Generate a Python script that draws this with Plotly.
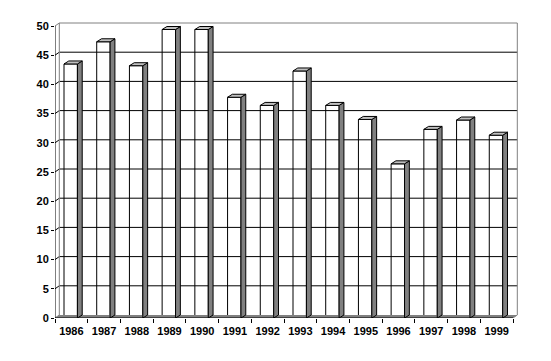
import plotly.graph_objects as go

years = ["1986", "1987", "1988", "1989", "1990", "1991", "1992", "1993",
         "1994", "1995", "1996", "1997", "1998", "1999"]
values = [43.5, 47.3, 43.2, 49.4, 49.4, 37.8, 36.4, 42.3, 36.4, 34.0, 26.4, 32.3, 33.9, 31.3]
yticks = [0, 5, 10, 15, 20, 25, 30, 35, 40, 45, 50]

W, H = 551, 361
L, R, T, B = 55, 33, 22, 43
XS = 458 / 14.0   # px per category slot
YS = 292 / 50.0   # px per value unit
xmax = (W - L - R) / XS
ymax = (H - T - B) / YS

DX = 4.3 / XS     # depth offset (x) in data units
DY = 3.0 / YS     # depth offset (y) in data units
BAR_L = 0.275
BAR_W = 0.41
SIDE = 4.8 / XS
TOP = 3.0 / YS

n = len(years)
fig = go.Figure()

GRAY = "#808080"
LGRAY = "#c0c0c0"

# floor
fig.add_trace(go.Scatter(x=[0, n, n + DX, DX, 0], y=[0, 0, DY, DY, 0], mode="lines",
                         fill="toself", fillcolor=GRAY, line=dict(width=0),
                         hoverinfo="skip", showlegend=False))

# gridlines on back wall with connectors
gx, gy = [], []
for v in yticks[1:-1]:
    gx += [0, DX, n + DX, None]
    gy += [v, v + DY, v + DY, None]
fig.add_trace(go.Scatter(x=gx, y=gy, mode="lines", line=dict(color="black", width=1),
                         hoverinfo="skip", showlegend=False))

# wall borders (grey)
fig.add_trace(go.Scatter(x=[DX, DX, n + DX, n + DX, n], y=[DY, 50 + DY, 50 + DY, DY, 0],
                         mode="lines", line=dict(color=GRAY, width=1),
                         hoverinfo="skip", showlegend=False))
fig.add_trace(go.Scatter(x=[0, DX], y=[50, 50 + DY], mode="lines",
                         line=dict(color=GRAY, width=1), hoverinfo="skip", showlegend=False))
fig.add_trace(go.Scatter(x=[0, DX], y=[0, DY], mode="lines",
                         line=dict(color=GRAY, width=1), hoverinfo="skip", showlegend=False))

# front faces
fig.add_trace(go.Bar(x=[i + BAR_L + BAR_W / 2 for i in range(n)], y=values,
                     width=BAR_W, marker=dict(color="white", line=dict(color="black", width=1)),
                     hoverinfo="skip", showlegend=False))

# side faces
sx, sy = [], []
for i, v in enumerate(values):
    x1 = i + BAR_L + BAR_W
    sx += [x1, x1 + SIDE, x1 + SIDE, x1, x1, None]
    sy += [0, TOP, v + TOP, v, 0, None]
fig.add_trace(go.Scatter(x=sx, y=sy, mode="lines", fill="toself", fillcolor=GRAY,
                         line=dict(color="black", width=1), hoverinfo="skip", showlegend=False))

# top faces
tx, ty = [], []
for i, v in enumerate(values):
    x0 = i + BAR_L
    x1 = x0 + BAR_W
    tx += [x0, x1, x1 + SIDE, x0 + SIDE, x0, None]
    ty += [v, v, v + TOP, v + TOP, v, None]
fig.add_trace(go.Scatter(x=tx, y=ty, mode="lines", fill="toself", fillcolor=LGRAY,
                         line=dict(color="black", width=1), hoverinfo="skip", showlegend=False))

# axis lines
fig.add_trace(go.Scatter(x=[0, 0, n], y=[50, 0, 0], mode="lines",
                         line=dict(color="black", width=1), hoverinfo="skip", showlegend=False))

font = dict(family="Arial, Liberation Sans, sans-serif", size=11, color="black", weight="bold")

fig.update_layout(
    width=W, height=H, autosize=False,
    margin=dict(l=L, r=R, t=T, b=B, pad=0),
    paper_bgcolor="white", plot_bgcolor="white",
    barmode="overlay",
    xaxis=dict(range=[0, xmax], tickmode="array", tickvals=[i + 0.5 for i in range(n)],
               ticktext=years, ticks="", showgrid=False, zeroline=False, showline=False,
               tickfont=font, ticklabelstandoff=5,
               minor=dict(tickmode="array", tickvals=list(range(n + 1)), ticks="outside",
                          ticklen=4, tickcolor="black", tickwidth=1, showgrid=False)),
    yaxis=dict(range=[0, ymax], tickmode="array", tickvals=yticks,
               ticktext=[str(v) for v in yticks], ticks="outside", ticklen=3,
               tickcolor="black", showgrid=False, zeroline=False, showline=False,
               tickfont=font),
)

fig.write_html("out.html")
